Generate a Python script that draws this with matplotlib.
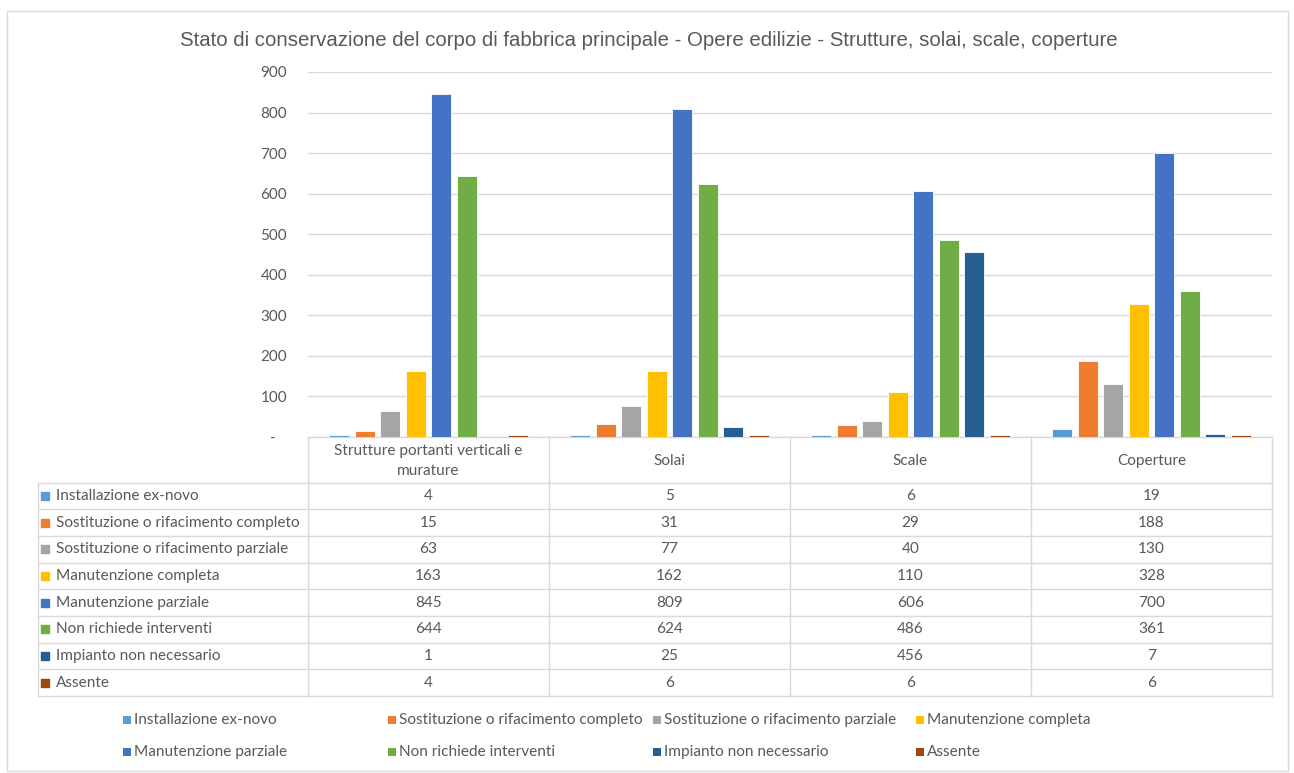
import matplotlib.pyplot as plt
import matplotlib.transforms as mtransforms
from matplotlib.patches import Rectangle
import numpy as np

plt.rcParams['font.family'] = ['Lato', 'DejaVu Sans']

# --- data ---
categories = ["Strutture portanti verticali e\nmurature", "Solai", "Scale", "Coperture"]
series_names = [
    "Installazione ex-novo",
    "Sostituzione o rifacimento completo",
    "Sostituzione o rifacimento parziale",
    "Manutenzione completa",
    "Manutenzione parziale",
    "Non richiede interventi",
    "Impianto non necessario",
    "Assente",
]
installazione = [4, 5, 6, 19]
sost_completo = [15, 31, 29, 188]
sost_parziale = [63, 77, 40, 130]
manut_completa = [163, 162, 110, 328]
manut_parziale = [845, 809, 606, 700]
non_richiede = [644, 624, 486, 361]
non_necessario = [1, 25, 456, 7]
assente = [4, 6, 6, 6]
series_values = [installazione, sost_completo, sost_parziale, manut_completa,
                 manut_parziale, non_richiede, non_necessario, assente]
colors = ["#5B9BD5", "#ED7D31", "#A5A5A5", "#FFC000",
          "#4472C4", "#70AD47", "#255E91", "#9E480E"]

TXT = "#595959"
GRID = "#d9d9d9"
W, H = 1294, 773
FS = 11.1

fig = plt.figure(figsize=(W / 100, H / 100), dpi=100)

# overlay in pixel coordinates for frame, title and legend
ov = fig.add_axes([0, 0, 1, 1], zorder=0)
ov.set_xlim(0, W)
ov.set_ylim(H, 0)
ov.axis("off")
ov.add_patch(Rectangle((7, 11), 1281, 760, fill=False, edgecolor=GRID, lw=1))
ov.text(649, 40, "Stato di conservazione del corpo di fabbrica principale - Opere edilizie - Strutture, solai, scale, coperture",
        ha="center", va="center", fontsize=14.7, color=TXT, family=["Liberation Sans", "DejaVu Sans"])

# chart axes
ax = fig.add_axes([308 / W, 1 - 437 / H, 964 / W, 365 / H], zorder=1)
ax.patch.set_alpha(0)
x = np.arange(len(categories))
pitch = 0.1058
width = 0.083
for i, (vals, col) in enumerate(zip(series_values, colors)):
    ax.bar(x + (i - 3.5) * pitch, vals, width=width, color=col,
           edgecolor="white", linewidth=0.6, zorder=3)

ax.set_xlim(-0.5, 3.5)
ax.set_ylim(0, 900)
ax.set_yticks(range(0, 901, 100))
ax.set_yticklabels(["-   "] + [str(v) for v in range(100, 901, 100)])
ax.yaxis.grid(True, color=GRID, lw=1)
ax.set_axisbelow(True)
ax.tick_params(axis="y", length=0, pad=15, labelsize=11, labelcolor=TXT)
ax.set_xticks([])
for s in ax.spines.values():
    s.set_visible(False)

# data table under the axis
tr = mtransforms.blended_transform_factory(ax.transData, ax.transAxes)
plot_h = 365.0


def ya(p):
    return (437 - p) / plot_h


x_lab = -0.5 - 270 / 241
header_bot = 482.5
row_h = 26.7
n_rows = len(series_names)
table_bot = header_bot + n_rows * row_h

line_kw = dict(color=GRID, lw=1, transform=tr, clip_on=False, zorder=2)
ax.plot([-0.5, 3.5], [ya(437), ya(437)], **line_kw)
for r in range(n_rows + 1):
    yy = ya(header_bot + r * row_h)
    ax.plot([x_lab, 3.5], [yy, yy], **line_kw)
for xb in np.arange(-0.5, 3.6, 1.0):
    ax.plot([xb, xb], [ya(437), ya(table_bot)], **line_kw)
ax.plot([x_lab, x_lab], [ya(header_bot), ya(table_bot)], **line_kw)

for j, cat in enumerate(categories):
    ax.text(j, ya((437 + header_bot) / 2 + 1), cat, transform=tr, ha="center", va="center",
            fontsize=FS, color=TXT, linespacing=1.55, clip_on=False)

for i, (name, vals, col) in enumerate(zip(series_names, series_values, colors)):
    yc = ya(header_bot + (i + 0.5) * row_h)
    ax.plot([x_lab + 0.03], [yc], marker="s", ms=6, color=col, transform=tr,
            clip_on=False, linestyle="none")
    ax.text(x_lab + 0.075, yc, name, transform=tr, ha="left", va="center",
            fontsize=FS, color=TXT, clip_on=False)
    for j, v in enumerate(vals):
        ax.text(j, yc, str(v), transform=tr, ha="center", va="center",
                fontsize=FS, color=TXT, clip_on=False)

# legend in four equal columns
leg_x = [127, 392, 657, 920]
leg_y = [720, 752]
for i, (name, col) in enumerate(zip(series_names, colors)):
    lx = leg_x[i % 4]
    ly = leg_y[i // 4]
    ov.add_patch(Rectangle((lx - 4, ly - 4), 8, 8, color=col, lw=0))
    ov.text(lx + 7, ly, name, ha="left", va="center", fontsize=FS, color=TXT)

fig.savefig("out.png", dpi=100)
